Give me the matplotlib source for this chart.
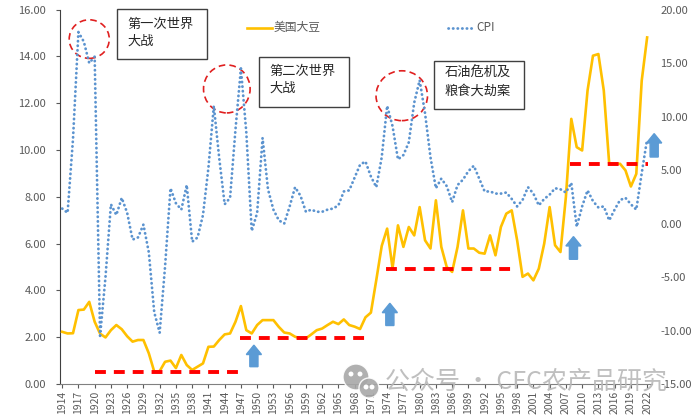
import numpy as np
import matplotlib.pyplot as plt
from matplotlib.patches import Ellipse, FancyArrow, Rectangle
from matplotlib.lines import Line2D

plt.rcParams['font.family'] = ['Noto Sans CJK SC', 'DejaVu Sans']

# Données (1914-2022)
annees = np.arange(1914, 2023)

# Prix du soja américain (axe gauche)
soja = [2.23, 2.16, 2.17, 3.16, 3.18, 3.51, 2.66, 2.15, 1.99, 2.30,
        2.52, 2.34, 2.04, 1.81, 1.88, 1.88, 1.31, 0.53, 0.55, 0.95,
        1.00, 0.68, 1.24, 0.81, 0.60, 0.74, 0.88, 1.59, 1.60, 1.88,
        2.12, 2.16, 2.66, 3.33, 2.30, 2.16, 2.52, 2.73, 2.73, 2.73,
        2.44, 2.20, 2.16, 2.02, 1.95, 1.95, 2.12, 2.30, 2.37, 2.52,
        2.66, 2.56, 2.76, 2.52, 2.45, 2.35, 2.85, 3.05, 4.45, 5.90,
        6.64, 4.95, 6.78, 5.86, 6.71, 6.35, 7.56, 6.14, 5.79, 7.85,
        5.86, 5.00, 4.79, 5.86, 7.42, 5.79, 5.79, 5.61, 5.57, 6.35,
        5.50, 6.71, 7.28, 7.42, 6.14, 4.58, 4.72, 4.43, 4.93, 6.00,
        7.56, 5.93, 5.64, 7.99, 11.33, 10.12, 9.98, 12.54, 14.03, 14.10,
        12.54, 9.41, 9.41, 9.41, 9.13, 8.44, 8.98, 12.96, 14.81]

# CPI (axe droit)
cpi = [1.4, 1.0, 7.9, 17.9, 17.0, 15.0, 15.6, -10.5, -5.0, 1.8,
       0.8, 2.4, 1.0, -1.5, -1.3, -0.1, -2.7, -8.3, -10.2, -4.0,
       3.3, 1.9, 1.3, 3.6, -1.7, -1.3, 0.8, 5.2, 11.0, 6.1,
       1.8, 2.4, 8.8, 14.5, 8.5, -0.7, 1.0, 8.0, 3.2, 1.3,
       0.3, 0.0, 1.6, 3.4, 2.6, 1.1, 1.3, 1.1, 1.1, 1.3,
       1.4, 1.7, 3.0, 3.1, 4.3, 5.5, 5.8, 4.4, 3.4, 6.2,
       11.0, 9.1, 6.0, 6.4, 7.6, 11.3, 13.4, 10.3, 6.2, 3.3,
       4.2, 3.5, 2.0, 3.6, 4.1, 4.9, 5.4, 4.2, 3.0, 3.0,
       2.8, 2.8, 2.9, 2.3, 1.6, 2.2, 3.4, 2.8, 1.7, 2.3,
       2.7, 3.3, 3.2, 2.9, 3.8, -0.3, 1.6, 3.1, 2.1, 1.5,
       1.6, 0.3, 1.3, 2.2, 2.4, 1.8, 1.3, 4.7, 7.9]

# Paliers de prix (début, fin, niveau)
paliers = [(1920, 1947.3, 0.50), (1946.8, 1970.2, 1.95),
           (1973.8, 1997.3, 4.90), (2007.7, 2022.2, 9.40)]

# Flèches (x, bas, haut)
fleches = [(1949.4, 0.74, 1.66), (1974.5, 2.50, 3.45),
           (2008.4, 5.33, 6.30), (2023.3, 9.70, 10.70)]

# Cercles rouges (centre x, centre y, largeur, hauteur)
cercles = [(1919.0, 14.74, 7.4, 1.65), (1944.4, 12.61, 8.6, 2.05),
           (1976.7, 12.32, 9.5, 2.13)]

# Encadrés de texte (x0, y0, x1, y1 en pixels, position du texte, texte)
encadres = [(116.7, 9.3, 206.7, 59.0, 127.7, 32.9, '第一次世界\n大战'),
            (259.3, 57.3, 349.3, 106.7, 269.3, 79.7, '第二次世界\n大战'),
            (434.3, 60.7, 524.3, 109.3, 444.3, 82.3, '石油危机及\n粮食大劫案')]

gris = '#595959'
orange = '#FFC000'
bleu = '#5B93CF'

W, H = 700, 420
fig = plt.figure(figsize=(7, 4.2), dpi=100)
ax = fig.add_axes([60 / W, 36 / H, 592 / W, 374.4 / H])
ax2 = ax.twinx()

ax.plot(annees, soja, color=orange, lw=1.9, zorder=3)
ax2.plot(annees, cpi, color=bleu, lw=2.0, linestyle=(0, (0.1, 1.55)),
         dash_capstyle='round', zorder=3)

for x0, x1, niv in paliers:
    ax.plot([x0, x1], [niv, niv], color='#FF0000', lw=2.8,
            linestyle=(0, (2.8, 2.05)), zorder=4)

for x, y0, y1 in fleches:
    ax.add_patch(FancyArrow(x, y0, 0, y1 - y0, width=1.5, head_width=2.8,
                            head_length=0.4, length_includes_head=True,
                            color='#5B9BD5', clip_on=False, zorder=5))

for cx, cy, w, h in cercles:
    ax.add_patch(Ellipse((cx, cy), w, h, fill=False, edgecolor='#E02020',
                         lw=1.2, linestyle=(0, (4, 2.5)), zorder=5))

ax.set_xlim(1913.6, 2022.9)
ax.set_ylim(0, 16)
ax2.set_ylim(-15, 20)

ax.set_yticks(np.arange(0, 16.1, 2))
ax.set_yticklabels(['%.2f' % v for v in np.arange(0, 16.1, 2)])
ax2.set_yticks(np.arange(-15, 20.1, 5))
ax2.set_yticklabels(['%.2f' % v for v in np.arange(-15, 20.1, 5)])
ax.set_xticks(annees[::3])
ax.set_xticklabels([str(a) for a in annees[::3]], rotation=90)

ax.tick_params(axis='y', colors=gris, labelsize=8, length=3, pad=7)
ax.tick_params(axis='x', colors=gris, labelsize=7.5, length=3, pad=2)
ax2.tick_params(axis='y', colors=gris, labelsize=8, length=0, pad=6)

for a in (ax, ax2):
    for s in ('top', 'right'):
        a.spines[s].set_visible(False)
ax2.spines['left'].set_visible(False)
ax2.spines['bottom'].set_visible(False)
ax.spines['left'].set_color('#404040')
ax.spines['bottom'].set_color('#808080')


def px(x, y):
    return x / W, 1 - y / H


# Légende
fig.add_artist(Line2D([246.7 / W, 271.7 / W], [1 - 27.7 / H] * 2,
                      color=orange, lw=1.9))
fig.text(*px(274, 27.7), '美国大豆', fontsize=8.5, color=gris, va='center')
fig.add_artist(Line2D([448.3 / W, 473.3 / W], [1 - 27.7 / H] * 2,
                      color=bleu, lw=2.0, linestyle=(0, (0.1, 1.55)),
                      dash_capstyle='round'))
fig.text(*px(476, 27.7), 'CPI', fontsize=8.5, color=gris, va='center')

# Encadrés
for x0, y0, x1, y1, tx, ty, txt in encadres:
    fig.add_artist(Rectangle((x0 / W, 1 - y1 / H), (x1 - x0) / W,
                             (y1 - y0) / H, fill=True, facecolor='white',
                             edgecolor='#404040', lw=1,
                             transform=fig.transFigure))
    fig.text(*px(tx, ty), txt, fontsize=9.5, color='#262626', va='center',
             linespacing=1.45)

# Filigrane (icône + texte)
for cx, cy, r in [(356, 377, 13), (369, 388, 10)]:
    fig.add_artist(Ellipse(px(cx, cy), 2 * r / W, 2 * r / H,
                           facecolor='#a8a8a8', edgecolor='white', lw=1,
                           alpha=0.9, transform=fig.transFigure))
for cx, cy in [(351, 374), (360, 374), (366, 387), (372, 387)]:
    fig.add_artist(Ellipse(px(cx, cy), 3.5 / W, 3.5 / H, color='white',
                           transform=fig.transFigure))
fig.text(*px(385, 382), '公众号 · CFC农产品研究', fontsize=18,
         color='#b8b8b8', alpha=0.9, va='center')

fig.savefig('out.png', dpi=100)
